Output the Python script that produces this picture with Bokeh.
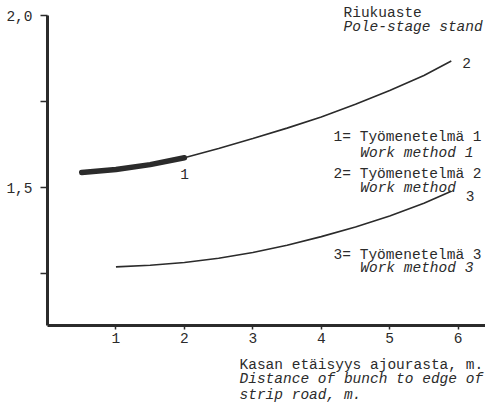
from bokeh.plotting import figure
from bokeh.models import Range1d, Label, FixedTicker
from bokeh.embed import file_html
from bokeh.resources import INLINE

# ---- data ----
x_method1 = [0.5, 1.0, 1.5, 2.0]
y_method1 = [1.544, 1.553, 1.567, 1.587]

x_method2 = [2.0, 2.5, 3.0, 3.5, 4.0, 4.5, 5.0, 5.5, 5.9]
y_method2 = [1.587, 1.614, 1.643, 1.673, 1.705, 1.742, 1.782, 1.826, 1.868]

x_method3 = [1.0, 1.5, 2.0, 2.5, 3.0, 3.5, 4.0, 4.5, 5.0, 5.5, 5.9]
y_method3 = [1.270, 1.275, 1.283, 1.295, 1.312, 1.333, 1.358, 1.386, 1.418, 1.455, 1.490]

x_ticks = [1, 2, 3, 4, 5, 6]
y_ticks = [1.25, 1.5, 1.75, 2.0]
y_tick_labels = {1.25: "", 1.5: "1,5", 1.75: "", 2.0: "2,0"}

INK = "#2b2b2b"
FONT = "Liberation Mono"
FS = "14.5px"

X_MIN, X_MAX = 0.0, 6.4
Y_MIN, Y_MAX = 1.1, 2.0

# the frame covers the whole canvas; axes are pinned inside it
p = figure(width=485, height=403, output_backend="svg", toolbar_location=None,
           x_range=Range1d(-0.687, 6.4), y_range=Range1d(0.8734, 2.0436),
           min_border=0)
p.outline_line_color = None
p.xgrid.visible = False
p.ygrid.visible = False
p.background_fill_color = "white"
p.border_fill_color = "white"

for ax in (p.xaxis[0], p.yaxis[0]):
    ax.axis_line_width = 3
    ax.axis_line_color = INK
    ax.major_tick_line_color = INK
    ax.major_tick_line_width = 1.5
    ax.major_tick_in = 0
    ax.minor_tick_line_color = None
    ax.major_label_text_font = FONT
    ax.major_label_text_font_size = FS
    ax.major_label_text_color = INK

p.xaxis[0].ticker = FixedTicker(ticks=x_ticks)
p.xaxis[0].major_tick_out = 4
p.xaxis[0].major_label_standoff = 4
p.xaxis[0].fixed_location = Y_MIN
p.xaxis[0].bounds = (X_MIN, X_MAX)
p.yaxis[0].ticker = FixedTicker(ticks=y_ticks)
p.yaxis[0].major_label_overrides = y_tick_labels
p.yaxis[0].major_tick_out = 7
p.yaxis[0].major_label_standoff = 8
p.yaxis[0].fixed_location = X_MIN
p.yaxis[0].bounds = (Y_MIN, Y_MAX)

p.line(x_method1, y_method1, line_width=5.5, line_color=INK, line_cap="round")
p.line(x_method2, y_method2, line_width=1.6, line_color=INK)
p.line(x_method3, y_method3, line_width=1.6, line_color=INK)

def lab(x, y, t, italic=False):
    p.add_layout(Label(x=x, y=y, text=t, text_font=FONT, text_font_size=FS,
                       text_color=INK, text_baseline="middle", text_align="left",
                       text_font_style="italic" if italic else "normal"))

lab(4.325, 2.006, "Riukuaste")
lab(4.325, 1.968, "Pole-stage stand", True)
lab(6.06, 1.863, "2")
lab(1.94, 1.541, "1")
lab(6.11, 1.477, "3")
lab(4.18, 1.648, "1= Työmenetelmä 1")
lab(4.57, 1.602, "Work method 1", True)
lab(4.18, 1.541, "2= Työmenetelmä 2")
lab(4.57, 1.500, "Work method", True)
lab(4.18, 1.305, "3= Työmenetelmä 3")
lab(4.57, 1.267, "Work method 3", True)
lab(2.805, 0.9866, "Kasan etäisyys ajourasta, m.")
lab(2.805, 0.9431, "Distance of bunch to edge of", True)
lab(2.805, 0.8995, "strip road, m.", True)

open("out.html", "w").write(file_html(p, INLINE))
